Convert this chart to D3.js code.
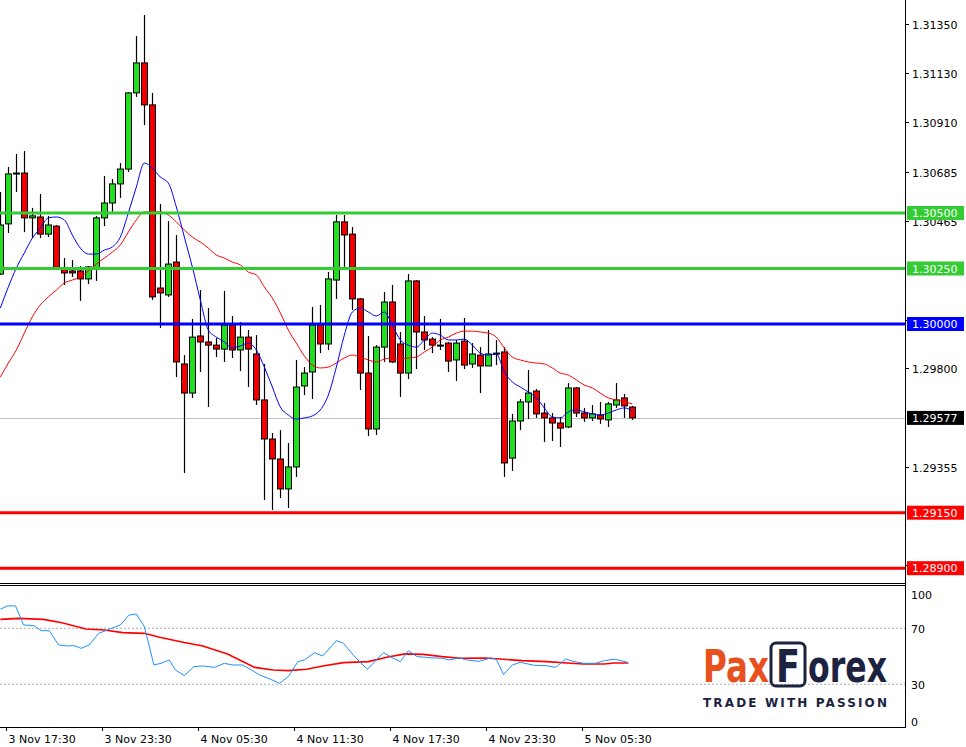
<!DOCTYPE html>
<html><head><meta charset="utf-8">
<script src="https://cdn.jsdelivr.net/npm/d3@7"></script>
<style>body{margin:0;background:#fff}svg{display:block}text{font-family:"DejaVu Sans",sans-serif}</style>
</head><body><svg id="c" width="966" height="747"></svg>
<script>
const opens=[1.30225,1.30451,1.30676,1.30680,1.30478,1.30482,1.30405,1.30441,1.30252,1.30239,1.30239,1.30203,1.30252,1.30478,1.30545,1.30631,1.30698,1.31041,1.31176,1.30987,1.30162,1.30131,1.30279,1.29820,1.29689,1.29946,1.29919,1.29905,1.29887,1.29995,1.29883,1.29941,1.29865,1.29658,1.29482,1.29392,1.29257,1.29356,1.29721,1.29784,1.29995,1.29910,1.30198,1.30460,1.30405,1.30113,1.29779,1.29527,1.29896,1.30099,1.29910,1.29779,1.30194,1.29964,1.29932,1.29905,1.29914,1.29838,1.29923,1.29820,1.29860,1.29811,1.29869,1.29874,1.29396,1.29563,1.29649,1.29698,1.29599,1.29577,1.29554,1.29536,1.29712,1.29599,1.29577,1.29590,1.29568,1.29635,1.29667,1.29626];
const highs=[1.30595,1.30707,1.30766,1.30779,1.30523,1.30586,1.30487,1.30446,1.30297,1.30288,1.30261,1.30261,1.30487,1.30667,1.30653,1.30725,1.31045,1.31297,1.31392,1.31041,1.30541,1.30464,1.30401,1.29860,1.30023,1.30153,1.30072,1.29937,1.30149,1.30036,1.30009,1.29973,1.29950,1.29820,1.29509,1.29522,1.29464,1.29838,1.29806,1.30077,1.30086,1.30234,1.30491,1.30491,1.30437,1.30117,1.29946,1.29905,1.30144,1.30176,1.29964,1.30225,1.30198,1.30036,1.29941,1.30023,1.29919,1.29928,1.30027,1.29914,1.29896,1.29973,1.29928,1.29896,1.29595,1.29662,1.29793,1.29707,1.29644,1.29599,1.29581,1.29734,1.29716,1.29622,1.29635,1.29649,1.29649,1.29734,1.29685,1.29631];
const lows=[1.30221,1.30410,1.30595,1.30414,1.30387,1.30387,1.30392,1.30243,1.30176,1.30212,1.30104,1.30180,1.30194,1.30441,1.30505,1.30568,1.30685,1.31023,1.30896,1.30108,1.29982,1.30122,1.29761,1.29329,1.29667,1.29784,1.29626,1.29851,1.29829,1.29847,1.29788,1.29716,1.29635,1.29207,1.29162,1.29216,1.29171,1.29311,1.29680,1.29662,1.29869,1.29883,1.30113,1.30252,1.30063,1.29703,1.29495,1.29500,1.29829,1.29824,1.29671,1.29752,1.29797,1.29883,1.29869,1.29883,1.29784,1.29743,1.29797,1.29802,1.29689,1.29811,1.29815,1.29311,1.29338,1.29522,1.29572,1.29577,1.29468,1.29473,1.29446,1.29531,1.29581,1.29559,1.29563,1.29550,1.29536,1.29622,1.29577,1.29568];
const closes=[1.30446,1.30676,1.30680,1.30478,1.30487,1.30405,1.30446,1.30252,1.30230,1.30230,1.30203,1.30257,1.30478,1.30545,1.30631,1.30698,1.31041,1.31176,1.30987,1.30122,1.30140,1.30270,1.29829,1.29689,1.29941,1.29919,1.29905,1.29887,1.29995,1.29883,1.29941,1.29887,1.29658,1.29482,1.29392,1.29257,1.29356,1.29716,1.29779,1.29995,1.29910,1.30203,1.30460,1.30401,1.30113,1.29779,1.29527,1.29896,1.30099,1.29829,1.29779,1.30194,1.29964,1.29928,1.29905,1.29901,1.29833,1.29914,1.29815,1.29865,1.29811,1.29865,1.29865,1.29374,1.29563,1.29649,1.29689,1.29595,1.29577,1.29554,1.29531,1.29712,1.29599,1.29577,1.29595,1.29572,1.29640,1.29658,1.29631,1.29577];
const maFast=[1.30072,1.30167,1.30252,1.30320,1.30387,1.30432,1.30478,1.30482,1.30469,1.30401,1.30342,1.30315,1.30315,1.30333,1.30347,1.30392,1.30500,1.30617,1.30725,1.30703,1.30662,1.30635,1.30527,1.30392,1.30257,1.30108,1.29973,1.29941,1.29919,1.29892,1.29901,1.29914,1.29883,1.29806,1.29716,1.29626,1.29590,1.29572,1.29577,1.29586,1.29613,1.29680,1.29806,1.29950,1.30054,1.30072,1.30054,1.30036,1.30054,1.29995,1.29928,1.29905,1.29896,1.29928,1.29959,1.29950,1.29928,1.29928,1.29932,1.29905,1.29869,1.29860,1.29865,1.29784,1.29739,1.29716,1.29694,1.29667,1.29622,1.29581,1.29577,1.29604,1.29613,1.29604,1.29595,1.29590,1.29599,1.29613,1.29622,1.29608];
const maSlow=[1.29761,1.29824,1.29883,1.29959,1.30032,1.30086,1.30122,1.30153,1.30185,1.30198,1.30212,1.30239,1.30270,1.30297,1.30324,1.30356,1.30414,1.30469,1.30505,1.30505,1.30505,1.30491,1.30460,1.30423,1.30392,1.30369,1.30342,1.30311,1.30297,1.30279,1.30266,1.30234,1.30221,1.30167,1.30117,1.30050,1.29973,1.29914,1.29856,1.29815,1.29802,1.29806,1.29824,1.29847,1.29860,1.29851,1.29838,1.29829,1.29842,1.29847,1.29842,1.29847,1.29851,1.29874,1.29896,1.29928,1.29941,1.29959,1.29968,1.29968,1.29964,1.29959,1.29941,1.29892,1.29851,1.29838,1.29829,1.29824,1.29820,1.29802,1.29779,1.29770,1.29748,1.29725,1.29712,1.29689,1.29667,1.29658,1.29649,1.29640];
const levels=[{p:1.30500,c:"#33cc33"},{p:1.30250,c:"#33cc33"},{p:1.30000,c:"#0000ff"},{p:1.29150,c:"#ff0000"},{p:1.28900,c:"#ff0000"}];
const lastPrice=1.29577;
const priceTicks=[1.31350,1.31130,1.30910,1.30685,1.30465,1.30020,1.29800,1.29355,1.28915];
const timeLabels=[{i:1,t:"3 Nov 17:30"},{i:13,t:"3 Nov 23:30"},{i:25,t:"4 Nov 05:30"},{i:37,t:"4 Nov 11:30"},{i:49,t:"4 Nov 17:30"},{i:61,t:"4 Nov 23:30"},{i:73,t:"5 Nov 05:30"}];
const oscMain=[[0,83.6],[0.9,86],[1.9,86],[2.9,72.4],[4.2,71.9],[5.1,68.3],[6.1,68.3],[7.3,58.1],[8.4,57.4],[9.2,57.6],[10.1,55.7],[11.1,58.1],[12.3,66.4],[13.4,68.8],[15,72.4],[16.1,79.5],[17,80.2],[18,71.2],[19.2,43.8],[20.1,45],[21.1,47.4],[21.9,40.2],[23,36.2],[24.2,42.6],[25.3,43.1],[26.8,42.1],[28,45],[29,43.8],[30.3,43.8],[31.4,40.2],[32.4,36.7],[33.7,33.8],[34.9,30.7],[36,35.5],[37.2,46.2],[38,47.4],[39.3,52.6],[40.3,50.2],[42,61.2],[42.9,59.3],[44.1,51],[44.9,46.2],[45.9,40.7],[46.8,46.2],[47.9,52.6],[49.1,48.6],[50,46.2],[51,54],[52.1,49.8],[53.7,49],[55.2,48.6],[56.1,47.4],[57.4,48.8],[58.3,47.4],[59.8,46.4],[61.3,48.8],[62,47.9],[62.9,36.9],[64,43.8],[65,45.7],[66.7,43.6],[68.3,43.3],[69.4,42.1],[70.7,48.1],[71.7,46.2],[72.9,45],[74.4,45],[75.5,46.9],[76.7,47.9],[77.6,46.9],[78.5,45.5]];
const oscSignal=[[0,76.4],[2.3,77.1],[5.4,76.4],[7.7,74],[10.7,69.5],[13,68.8],[15.3,66.9],[18,66.4],[19.9,63.6],[23,59.8],[25.3,57.4],[28.4,51.7],[31.8,42.1],[34.1,40.2],[36,39.8],[38.3,40.7],[40.3,43.1],[42.9,45.5],[46,46.2],[48.3,49.3],[50.6,51.7],[52.9,51.4],[55.2,49.8],[57.5,48.6],[60.6,48.8],[62.9,47.9],[65.2,46.9],[68.3,46.2],[71.3,45],[72.9,44.5],[75.5,44.5],[76.7,45.2],[78.5,45.2]];
const oscTicks=[100,70,30,0];

const svg=d3.select("#c");
const W=905, PB=580, OT=585, OB=727;
const x=d3.scaleLinear().domain([0,79]).range([0.33,632.33]);
const y=d3.scaleLinear().domain([1.3,1.305]).range([324,213]);
const yo=d3.scaleLinear().domain([30,70]).range([684.3,628.3]);
const g=svg.append("g");
g.append("line").attr("x1",W+0.5).attr("x2",W+0.5).attr("y1",0).attr("y2",OB).attr("stroke","#000");
g.append("line").attr("x1",0).attr("x2",W).attr("y1",PB+3.5).attr("y2",PB+3.5).attr("stroke","#000");
g.append("line").attr("x1",0).attr("x2",W).attr("y1",OT+0.5).attr("y2",OT+0.5).attr("stroke","#000");
g.append("line").attr("x1",0).attr("x2",W+1).attr("y1",OB+0.5).attr("y2",OB+0.5).attr("stroke","#000");
priceTicks.forEach(p=>{const yy=Math.round(y(p))+0.5;
 g.append("line").attr("x1",W).attr("x2",W+4).attr("y1",yy).attr("y2",yy).attr("stroke","#000");
 g.append("text").attr("x",912).attr("y",yy+4).attr("font-size",11).text(p.toFixed(5));});
g.append("line").attr("x1",0).attr("x2",W).attr("y1",Math.round(y(lastPrice))+0.5).attr("y2",Math.round(y(lastPrice))+0.5).attr("stroke","#c0c0c0");
const data=opens.map((o,i)=>({i,o,h:highs[i],l:lows[i],c:closes[i]}));
const cg=g.append("g");
data.forEach(d=>{const cx=Math.round(x(d.i))+0.5;
 cg.append("line").attr("x1",cx).attr("x2",cx).attr("y1",y(d.h)).attr("y2",y(d.l)).attr("stroke","#000").attr("stroke-width",1.2);
 const t=Math.min(y(d.o),y(d.c)),b=Math.max(y(d.o),y(d.c));
 cg.append("rect").attr("x",cx-3).attr("y",t).attr("width",6).attr("height",Math.max(1,b-t))
  .attr("fill",d.c>=d.o?"#22dd22":"#ee0000").attr("stroke","#000").attr("stroke-width",1);});
const ln=d3.line().x((d,i)=>x(i)).y(d=>y(d)).curve(d3.curveMonotoneX);
g.append("path").attr("d",ln(maSlow)).attr("fill","none").attr("stroke","#ff0000").attr("stroke-width",1);
g.append("path").attr("d",ln(maFast)).attr("fill","none").attr("stroke","#0000ff").attr("stroke-width",1);
levels.forEach(L=>{const yy=y(L.p);
 g.append("line").attr("x1",0).attr("x2",W).attr("y1",yy).attr("y2",yy).attr("stroke",L.c).attr("stroke-width",3);
 g.append("rect").attr("x",907).attr("y",yy-7).attr("width",57).attr("height",14).attr("fill",L.c);
 g.append("text").attr("x",912).attr("y",yy+4).attr("font-size",11).attr("fill","#fff").text(L.p.toFixed(5));});
{const yy=y(lastPrice);
 g.append("rect").attr("x",907).attr("y",yy-7).attr("width",57).attr("height",14).attr("fill","#000");
 g.append("text").attr("x",912).attr("y",yy+4).attr("font-size",11).attr("fill","#fff").text(lastPrice.toFixed(5));}
[70,30].forEach(v=>g.append("line").attr("x1",0).attr("x2",W).attr("y1",yo(v)).attr("y2",yo(v)).attr("stroke","#b0b0b0").attr("stroke-dasharray","2,2"));
const offs={100:9,70:1,30:1,0:-4};
oscTicks.forEach(v=>{g.append("text").attr("x",911).attr("y",yo(v)+offs[v]+4).attr("font-size",11).text(v);});
const lo=d3.line().x(d=>x(d[0])).y(d=>yo(d[1]));
g.append("path").attr("d",lo(oscSignal)).attr("fill","none").attr("stroke","#ff0000").attr("stroke-width",1.6);
g.append("path").attr("d",lo(oscMain)).attr("fill","none").attr("stroke","#1e90ff").attr("stroke-width",1);
timeLabels.forEach(t=>{const xx=Math.round(x(t.i))-1.5;
 g.append("line").attr("x1",xx).attr("x2",xx).attr("y1",OB).attr("y2",OB+4).attr("stroke","#000");
 g.append("text").attr("x",xx+2).attr("y",743).attr("font-size",11).text(t.t);});
const lg=g.append("g").attr("font-family","Roboto,sans-serif").attr("font-weight","bold");
lg.append("text").attr("x",703).attr("y",682).attr("font-size",44).attr("fill","#e8501e").attr("textLength",66).attr("lengthAdjust","spacingAndGlyphs").text("Pax");
lg.append("rect").attr("x",771).attr("y",643).attr("width",34).attr("height",43).attr("rx",5).attr("fill","none").attr("stroke","#1c2340").attr("stroke-width",3);
lg.append("text").attr("x",776).attr("y",682).attr("font-size",44).attr("fill","#1c2340").attr("textLength",24).attr("lengthAdjust","spacingAndGlyphs").text("F");
lg.append("text").attr("x",808).attr("y",682).attr("font-size",44).attr("fill","#1c2340").attr("textLength",79).attr("lengthAdjust","spacingAndGlyphs").text("orex");
lg.append("text").attr("x",703).attr("y",707).attr("font-size",12).attr("fill","#1c2340").attr("textLength",184).attr("lengthAdjust","spacing").text("TRADE WITH PASSION");
</script></body></html>
